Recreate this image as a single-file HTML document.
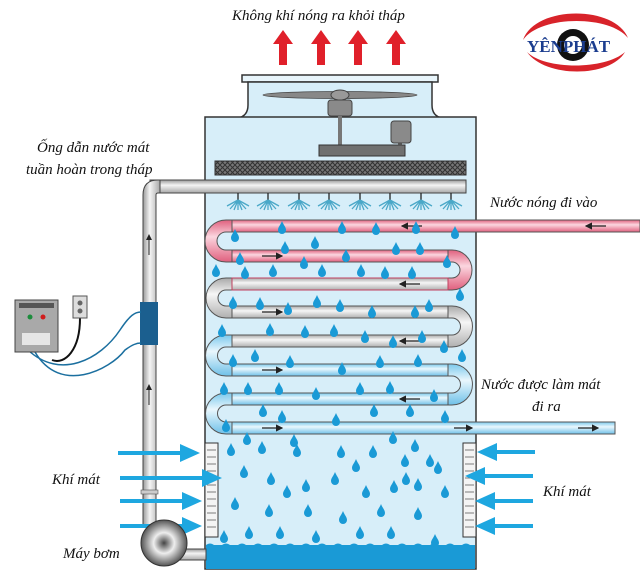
<!DOCTYPE html>
<html><head><meta charset="utf-8"><style>
html,body{margin:0;padding:0;background:#fff;}
svg{display:block}
.t{font-family:"Liberation Serif",serif;font-style:italic;font-size:15px;fill:#111}
</style></head><body>
<svg width="640" height="570" viewBox="0 0 640 570" xmlns="http://www.w3.org/2000/svg">
<defs>
<symbol id="d" overflow="visible"><path d="M0,-7 C1.5,-3 4,-1 4,2 A4,4 0 0 1 -4,2 C-4,-1 -1.5,-3 0,-7Z" fill="#1a9ad6"/></symbol>
<pattern id="mesh" width="5" height="5" patternUnits="userSpaceOnUse"><rect width="5" height="5" fill="#777"/><path d="M0,0L5,5M5,0L0,5" stroke="#333" stroke-width="1"/></pattern>
<linearGradient id="gp" x1="0" y1="0" x2="0" y2="1"><stop offset="0" stop-color="#9a9a9a"/><stop offset=".4" stop-color="#f4f4f4"/><stop offset="1" stop-color="#a8a8a8"/></linearGradient>
<linearGradient id="gv" x1="0" y1="0" x2="1" y2="0"><stop offset="0" stop-color="#9a9a9a"/><stop offset=".4" stop-color="#f4f4f4"/><stop offset="1" stop-color="#a8a8a8"/></linearGradient>
<linearGradient id="gr" x1="0" y1="0" x2="0" y2="1"><stop offset="0" stop-color="#e0607e"/><stop offset=".4" stop-color="#fbd6df"/><stop offset="1" stop-color="#e0607e"/></linearGradient>
<linearGradient id="gb" x1="0" y1="0" x2="0" y2="1"><stop offset="0" stop-color="#7cc9ec"/><stop offset=".4" stop-color="#eaf7fd"/><stop offset="1" stop-color="#6fc0e8"/></linearGradient>
<linearGradient id="gg" x1="0" y1="0" x2="0" y2="1"><stop offset="0" stop-color="#a9a9a9"/><stop offset=".4" stop-color="#f6f6f6"/><stop offset="1" stop-color="#b0b0b0"/></linearGradient>
<radialGradient id="pump" cx=".5" cy=".5" r=".5"><stop offset="0" stop-color="#444"/><stop offset=".45" stop-color="#eee"/><stop offset="1" stop-color="#555"/></radialGradient>
<marker id="ah" markerWidth="6" markerHeight="6" refX="5" refY="3" orient="auto"><path d="M0,0L6,3L0,6Z" fill="#222"/></marker>
</defs>

<!-- top text and red arrows -->
<text class="t" x="232" y="20" style="font-size:15px">Không khí nóng ra khỏi tháp</text>
<g fill="#e0202a">
<path d="M279,65V44h-6l10,-14l10,14h-6v21z"/>
<path d="M317,65V44h-6l10,-14l10,14h-6v21z"/>
<path d="M354,65V44h-6l10,-14l10,14h-6v21z"/>
<path d="M392,65V44h-6l10,-14l10,14h-6v21z"/>
</g>

<!-- logo -->
<g>
<path d="M523,40 C535,5 615,5 628,38 C610,15 540,15 523,40Z" fill="#d8232a"/>
<path d="M527,52 C545,78 610,78 625,52 C605,70 545,70 527,52Z" fill="#d8232a"/>
<circle cx="573" cy="45" r="16" fill="#111"/>
<circle cx="573" cy="45" r="9" fill="#fff"/>
<text x="527" y="52" font-family="Liberation Serif,serif" font-weight="bold" font-size="17" fill="#1b3d8f">YÊNPHÁT</text>
</g>

<!-- tower -->
<rect x="242" y="75" width="196" height="7" fill="#e8f5fb" stroke="#333" stroke-width="1.5"/>
<path d="M248,82 H432 V105 Q432,116 442,118 H238 Q248,116 248,105Z" fill="#d7eef9" stroke="#333" stroke-width="1.5"/>
<rect x="205" y="117" width="271" height="452" fill="#d7eef9" stroke="#333" stroke-width="1.5"/>
<rect x="206" y="545" width="269" height="24" fill="#1a9ad6"/>
<path d="M206,545 q4,-3 8,0 t8,0 t8,0 t8,0 t8,0 t8,0 t8,0 t8,0 t8,0 t8,0 t8,0 t8,0 t8,0 t8,0 t8,0 t8,0 t8,0 t8,0 t8,0 t8,0 t8,0 t8,0 t8,0 t8,0 t8,0 t8,0 t8,0 t8,0 t8,0 t8,0 t8,0 t8,0 t8,0 V548 H206Z" fill="#1a9ad6"/>

<!-- fan -->
<ellipse cx="340" cy="95" rx="77" ry="3.5" fill="#888" stroke="#444" stroke-width=".8"/>
<ellipse cx="340" cy="95" rx="9" ry="5" fill="#999" stroke="#444"/>
<rect x="328" y="100" width="24" height="16" rx="3" fill="#8a8a8a" stroke="#444"/>
<rect x="338" y="116" width="4" height="30" fill="#777"/>
<rect x="319" y="145" width="86" height="11" fill="#707070" stroke="#333"/>
<rect x="391" y="121" width="20" height="22" rx="3" fill="#8a8a8a" stroke="#444"/>
<rect x="398" y="143" width="4" height="3" fill="#555"/>
<rect x="215" y="161" width="251" height="14" fill="url(#mesh)" stroke="#333"/>

<!-- distribution pipe -->
<rect x="150" y="180" width="316" height="13" fill="url(#gp)" stroke="#444"/>
<path d="M143,525 V195 Q143,180 158,180 H160 V193 H158 Q156,193 156,195 V525Z" fill="url(#gv)" stroke="#444"/>
<line x1="149" y1="255" x2="149" y2="235" stroke="#222" marker-end="url(#ah)"/>
<line x1="149" y1="405" x2="149" y2="385" stroke="#222" marker-end="url(#ah)"/>
<rect x="141" y="490" width="17" height="4" fill="#ccc" stroke="#555" stroke-width=".6"/>
<rect x="140" y="302" width="18" height="43" fill="#1b5f8f"/>

<!-- nozzles -->
<g stroke="#222" stroke-width="1.3" fill="none">
<g id="nz"><line x1="238" y1="193" x2="238" y2="200"/><path d="M238,200 l-11,6 M238,200 l-8,9 M238,200 l-4,10 M238,200 l0,10 M238,200 l4,10 M238,200 l8,9 M238,200 l11,6" stroke="#4aa8c8"/></g>
<use href="#nz" x="30"/><use href="#nz" x="61"/><use href="#nz" x="91"/><use href="#nz" x="122"/><use href="#nz" x="152"/><use href="#nz" x="183"/><use href="#nz" x="213"/>
</g>

<!-- coils -->
<g stroke="#555" stroke-width="1">
<!-- bends left -->
<path d="M232,220 H226 A16,16 0 0 0 226,262 H232 V250 H226 A4,4 0 0 1 226,232 H232Z" fill="url(#gr)"/>
<path d="M232,278 H226 A16,16 0 0 0 226,318 H232 V306 H226 A4,4 0 0 1 226,290 H232Z" fill="url(#gg)"/>
<path d="M232,335 H226 A16,16 0 0 0 226,376 H232 V364 H226 A4,4 0 0 1 226,347 H232Z" fill="url(#gb)"/>
<path d="M232,393 H226 A16,16 0 0 0 226,434 H232 V422 H226 A4,4 0 0 1 226,405 H232Z" fill="url(#gb)"/>
<!-- bends right -->
<path d="M448,250 H452 A16,16 0 0 1 452,290 H448 V278 H452 A4,4 0 0 0 452,262 H448Z" fill="url(#gr)"/>
<path d="M448,306 H452 A16,16 0 0 1 452,347 H448 V335 H452 A4,4 0 0 0 452,318 H448Z" fill="url(#gg)"/>
<path d="M448,364 H452 A16,16 0 0 1 452,405 H448 V393 H452 A4,4 0 0 0 452,376 H448Z" fill="url(#gb)"/>
<!-- straights -->
<rect x="232" y="220" width="408" height="12" fill="url(#gr)"/>
<rect x="232" y="250" width="216" height="12" fill="url(#gr)"/>
<rect x="232" y="278" width="216" height="12" fill="url(#gg)" stroke="#c0405e"/>
<rect x="232" y="306" width="216" height="12" fill="url(#gg)"/>
<rect x="232" y="335" width="216" height="12" fill="url(#gg)"/>
<rect x="232" y="364" width="216" height="12" fill="url(#gb)"/>
<rect x="232" y="393" width="216" height="12" fill="url(#gb)"/>
<rect x="232" y="422" width="383" height="12" fill="url(#gb)"/>
</g>
<g stroke="#222" stroke-width="1.2">
<line x1="422" y1="226" x2="402" y2="226" marker-end="url(#ah)"/>
<line x1="606" y1="226" x2="586" y2="226" marker-end="url(#ah)"/>
<line x1="262" y1="256" x2="282" y2="256" marker-end="url(#ah)"/>
<line x1="420" y1="284" x2="400" y2="284" marker-end="url(#ah)"/>
<line x1="262" y1="312" x2="282" y2="312" marker-end="url(#ah)"/>
<line x1="420" y1="341" x2="400" y2="341" marker-end="url(#ah)"/>
<line x1="262" y1="370" x2="282" y2="370" marker-end="url(#ah)"/>
<line x1="420" y1="399" x2="400" y2="399" marker-end="url(#ah)"/>
<line x1="262" y1="428" x2="282" y2="428" marker-end="url(#ah)"/>
<line x1="454" y1="428" x2="472" y2="428" marker-end="url(#ah)"/>
<line x1="578" y1="428" x2="598" y2="428" marker-end="url(#ah)"/>
</g>

<!-- louvers -->
<g fill="#f4f4f4" stroke="#333">
<rect x="205" y="443" width="13" height="94"/>
<rect x="463" y="443" width="13" height="94"/>
</g>
<g stroke="#555" stroke-width=".8" fill="none">
<path d="M207,450h9M207,457h9M207,464h9M207,471h9M207,478h9M207,485h9M207,492h9M207,499h9M207,506h9M207,513h9M207,520h9M207,527h9"/>
<path d="M465,450h9M465,457h9M465,464h9M465,471h9M465,478h9M465,485h9M465,492h9M465,499h9M465,506h9M465,513h9M465,520h9M465,527h9"/>
</g>

<!-- air arrows -->
<g fill="#1ea7e0">
<path d="M118,451h62v-7l20,9l-20,9v-7h-62z"/>
<path d="M120,476h82v-7l20,9l-20,9v-7h-82z"/>
<path d="M120,499h62v-7l20,9l-20,9v-7h-62z"/>
<path d="M120,524h62v-7l20,9l-20,9v-7h-62z"/>
<path d="M535,450h-38v-7l-20,9l20,9v-7h38z"/>
<path d="M533,474h-48v-7l-20,9l20,9v-7h48z"/>
<path d="M533,499h-38v-7l-20,9l20,9v-7h38z"/>
<path d="M533,524h-38v-7l-20,9l20,9v-7h38z"/>
</g>

<!-- pump -->
<rect x="175" y="549" width="31" height="11" fill="url(#gp)" stroke="#444"/>
<circle cx="164" cy="543" r="23" fill="url(#pump)" stroke="#333"/>

<!-- control box -->
<g>
<path d="M28,350 C60,380 100,360 120,330 C130,315 135,312 141,312" fill="none" stroke="#1b6f9f" stroke-width="1.5"/>
<path d="M35,352 C60,395 110,370 125,350 C132,345 136,343 141,343" fill="none" stroke="#1b6f9f" stroke-width="1.5"/>
<path d="M80,318 C80,350 65,365 52,360" fill="none" stroke="#111" stroke-width="2"/>
<rect x="15" y="300" width="43" height="52" fill="#a9a9a9" stroke="#444"/>
<rect x="19" y="303" width="35" height="5" fill="#555"/>
<circle cx="30" cy="317" r="2.5" fill="#1c8c3c"/><circle cx="43" cy="317" r="2.5" fill="#d01c1c"/>
<rect x="22" y="333" width="28" height="12" fill="#e6e6e6"/>
<rect x="73" y="296" width="14" height="22" fill="#ddd" stroke="#555"/>
<circle cx="80" cy="303" r="2.5" fill="#666"/><circle cx="80" cy="311" r="2.5" fill="#666"/>
</g>

<!-- drops -->
<g>
<use href="#d" x="282" y="228"/><use href="#d" x="235" y="236"/><use href="#d" x="315" y="243"/><use href="#d" x="342" y="228"/><use href="#d" x="376" y="229"/><use href="#d" x="416" y="228"/><use href="#d" x="455" y="233"/>
<use href="#d" x="240" y="259"/><use href="#d" x="285" y="248"/><use href="#d" x="304" y="263"/><use href="#d" x="346" y="256"/><use href="#d" x="396" y="249"/><use href="#d" x="420" y="249"/><use href="#d" x="447" y="262"/>
<use href="#d" x="216" y="271"/><use href="#d" x="245" y="273"/><use href="#d" x="273" y="271"/><use href="#d" x="322" y="271"/><use href="#d" x="361" y="271"/><use href="#d" x="385" y="273"/><use href="#d" x="412" y="273"/><use href="#d" x="460" y="295"/>
<use href="#d" x="233" y="303"/><use href="#d" x="260" y="304"/><use href="#d" x="288" y="309"/><use href="#d" x="317" y="302"/><use href="#d" x="340" y="306"/><use href="#d" x="372" y="312"/><use href="#d" x="415" y="312"/><use href="#d" x="429" y="306"/>
<use href="#d" x="222" y="331"/><use href="#d" x="270" y="330"/><use href="#d" x="305" y="332"/><use href="#d" x="334" y="331"/><use href="#d" x="365" y="337"/><use href="#d" x="393" y="342"/><use href="#d" x="422" y="337"/><use href="#d" x="444" y="347"/>
<use href="#d" x="233" y="361"/><use href="#d" x="255" y="356"/><use href="#d" x="290" y="362"/><use href="#d" x="342" y="369"/><use href="#d" x="380" y="362"/><use href="#d" x="418" y="361"/><use href="#d" x="462" y="356"/>
<use href="#d" x="224" y="389"/><use href="#d" x="248" y="389"/><use href="#d" x="279" y="389"/><use href="#d" x="316" y="394"/><use href="#d" x="360" y="389"/><use href="#d" x="390" y="388"/><use href="#d" x="434" y="396"/>
<use href="#d" x="263" y="411"/><use href="#d" x="282" y="417"/><use href="#d" x="336" y="420"/><use href="#d" x="374" y="411"/><use href="#d" x="410" y="411"/><use href="#d" x="445" y="417"/>
<use href="#d" x="226" y="426"/><use href="#d" x="393" y="438"/><use href="#d" x="294" y="441"/><use href="#d" x="247" y="439"/><use href="#d" x="415" y="446"/>
<use href="#d" x="231" y="450"/><use href="#d" x="262" y="448"/><use href="#d" x="297" y="451"/><use href="#d" x="341" y="452"/><use href="#d" x="373" y="452"/><use href="#d" x="405" y="461"/><use href="#d" x="430" y="461"/>
<use href="#d" x="244" y="472"/><use href="#d" x="271" y="479"/><use href="#d" x="335" y="479"/><use href="#d" x="356" y="466"/><use href="#d" x="406" y="479"/><use href="#d" x="438" y="468"/>
<use href="#d" x="287" y="492"/><use href="#d" x="306" y="486"/><use href="#d" x="366" y="492"/><use href="#d" x="394" y="487"/><use href="#d" x="418" y="485"/><use href="#d" x="445" y="492"/>
<use href="#d" x="235" y="504"/><use href="#d" x="269" y="511"/><use href="#d" x="308" y="511"/><use href="#d" x="343" y="518"/><use href="#d" x="381" y="511"/><use href="#d" x="418" y="514"/>
<use href="#d" x="224" y="537"/><use href="#d" x="249" y="533"/><use href="#d" x="280" y="533"/><use href="#d" x="316" y="537"/><use href="#d" x="360" y="533"/><use href="#d" x="391" y="533"/><use href="#d" x="435" y="541"/>
</g>

<!-- labels -->
<text class="t" x="37" y="152">Ống dẫn nước mát</text>
<text class="t" x="26" y="174">tuần hoàn trong tháp</text>
<text class="t" x="490" y="207">Nước nóng đi vào</text>
<text class="t" x="481" y="389">Nước được làm mát</text>
<text class="t" x="532" y="411">đi ra</text>
<text class="t" x="52" y="484">Khí mát</text>
<text class="t" x="543" y="496">Khí mát</text>
<text class="t" x="63" y="558">Máy bơm</text>
</svg>
</body></html>
